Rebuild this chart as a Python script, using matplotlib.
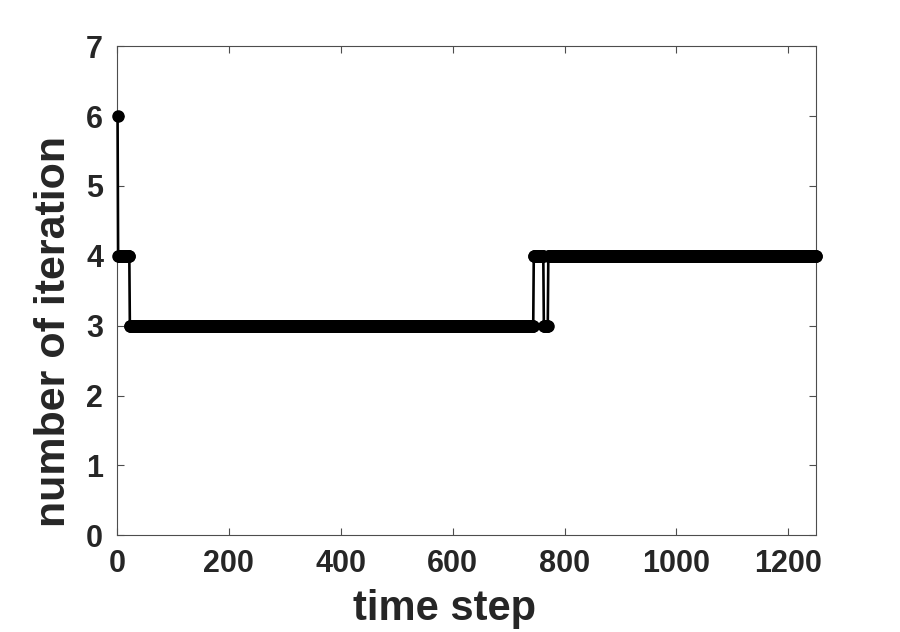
import matplotlib
matplotlib.use("Agg")
import matplotlib.pyplot as plt
import numpy as np

# iteration count per time step, written as runs of (first step, last step, value)
run_start = [1, 2, 23, 745, 763, 771]
run_end = [1, 22, 744, 762, 770, 1250]
run_value = [6, 4, 3, 4, 3, 4]

steps = np.concatenate([np.arange(a, b + 1) for a, b in zip(run_start, run_end)])
iters = np.concatenate([np.full(b - a + 1, v) for a, b, v in zip(run_start, run_end, run_value)])

xticks = [0, 200, 400, 600, 800, 1000, 1200]
yticks = [0, 1, 2, 3, 4, 5, 6, 7]

plt.rcParams['font.family'] = ['Liberation Sans', 'DejaVu Sans']
plt.rcParams['font.weight'] = 'bold'

txt = '#262626'
fig = plt.figure(figsize=(9, 6.32), dpi=100)
ax = fig.add_axes([0.130, 0.153, 0.777, 0.774])

ax.plot(steps, iters, '-', color='black', lw=1.9, marker='.', markersize=16,
        clip_on=False, zorder=3)

ax.set_xlim(0, 1250)
ax.set_ylim(0, 7)
ax.set_xticks(xticks)
ax.set_yticks(yticks)
ax.tick_params(direction='in', length=5, width=0.8, color='#4d4d4d',
               labelsize=22, top=True, right=True, pad=10)
for lab in ax.get_xticklabels() + ax.get_yticklabels():
    lab.set_fontweight('bold')
    lab.set_color(txt)
for sp in ax.spines.values():
    sp.set_color('#4d4d4d')
    sp.set_linewidth(0.8)

ax.set_xlabel('time step', fontsize=30, fontweight='bold', color=txt)
ax.set_ylabel('number of iteration', fontsize=31, fontweight='bold', color=txt)
ax.xaxis.set_label_coords(0.468, -0.11)
ax.yaxis.set_label_coords(-0.062, 0.417)

fig.savefig('out.png', dpi=100)
